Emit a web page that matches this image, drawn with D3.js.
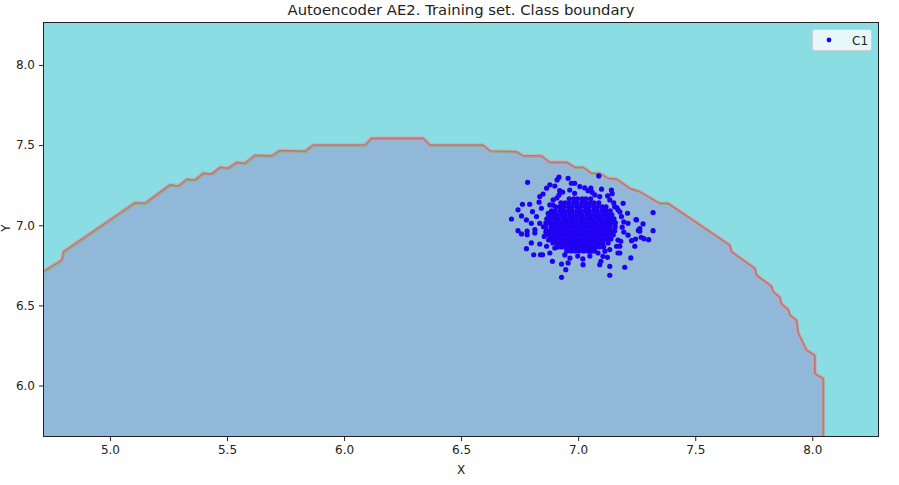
<!DOCTYPE html>
<html><head><meta charset="utf-8">
<script src="https://cdn.jsdelivr.net/npm/d3@7"></script>
<style>body{margin:0;background:#fff;} svg{display:block;font-family:"DejaVu Sans",sans-serif;}</style>
</head><body><svg id="c" width="899" height="485"></svg>
<script>
const xDomain = [4.714, 8.285];
const yDomain = [5.679, 8.268];
const xTicks = [5.0, 5.5, 6.0, 6.5, 7.0, 7.5, 8.0];
const yTicks = [6.0, 6.5, 7.0, 7.5, 8.0];
const title = "Autoencoder AE2. Training set. Class boundary";
const seriesName = "C1";

// class boundary (stepped contour), left to right
const boundary = [
 [4.714,6.710],[4.794,6.783],[4.801,6.835],[5.107,7.141],[5.149,7.137],[5.256,7.252],[5.292,7.245],
 [5.328,7.287],[5.363,7.283],[5.398,7.325],[5.434,7.320],[5.470,7.362],[5.505,7.356],[5.541,7.393],
 [5.576,7.387],[5.619,7.437],[5.690,7.433],[5.726,7.466],[5.833,7.462],[5.868,7.501],[6.089,7.501],
 [6.117,7.543],[6.338,7.543],[6.366,7.501],[6.594,7.501],[6.623,7.464],[6.737,7.459],[6.765,7.433],
 [6.843,7.433],[6.879,7.393],[6.950,7.393],[6.986,7.362],[7.021,7.362],[7.057,7.325],[7.092,7.325],
 [7.128,7.293],[7.164,7.289],[7.220,7.231],[7.263,7.210],[7.348,7.137],[7.384,7.137],[7.647,6.877],
 [7.655,6.835],[7.754,6.732],[7.761,6.690],[7.825,6.621],[7.832,6.586],[7.861,6.551],[7.868,6.509],
 [7.896,6.476],[7.904,6.440],[7.932,6.409],[7.939,6.330],[7.975,6.222],[8.010,6.190],[8.010,6.076],
 [8.046,6.045],[8.046,5.679]
];

// scattered points around the cloud edge
const outerPts = [
 [6.784,7.268],[6.918,7.300],[6.910,7.283],[6.957,7.293],[6.971,7.262],[6.985,7.262],[6.879,7.252],
 [6.900,7.245],[6.865,7.231],[6.921,7.216],[7.007,7.241],[6.850,7.195],[6.836,7.179],[6.762,7.131],
 [6.793,7.131],[6.833,7.144],[6.743,7.096],[6.805,7.085],[6.843,7.106],[6.715,7.039],[6.758,7.058],
 [6.779,7.033],[6.822,7.054],[6.872,7.075],[6.879,7.127],[6.893,7.158],[6.800,7.012],[6.836,7.012],
 [7.088,7.308],[7.054,7.231],[7.042,7.216],[7.100,7.225],[7.142,7.220],[7.145,7.197],[7.071,7.189],
 [7.092,7.179],[7.135,7.158],[7.192,7.137],[7.156,7.116],[7.170,7.096],[7.211,7.075],[7.320,7.079],
 [7.185,7.054],[7.249,7.033],[7.277,7.008],[7.213,7.012],
 [6.743,6.966],[6.758,6.946],[6.782,6.963],[6.782,6.941],[6.815,6.952],[6.815,6.973],[6.800,6.890],
 [6.779,6.854],[6.810,6.816],[6.839,6.816],[6.848,6.816],[6.879,6.827],[6.890,6.775],[6.929,6.758],
 [6.957,6.765],[6.947,6.723],[6.929,6.675],[7.021,6.754],[6.836,6.883],[6.865,6.869],
 [7.320,6.966],[7.263,6.963],[7.263,6.979],[7.213,6.938],[7.228,6.904],[7.245,6.914],[7.281,6.916],
 [7.301,6.910],[7.242,6.869],[7.182,6.900],[7.164,6.869],[7.178,6.869],[7.135,6.848],[7.114,6.838],
 [7.170,6.827],[7.178,6.827],[7.106,6.806],[7.125,6.800],[7.097,6.775],[7.092,6.754],[7.225,6.796],
 [7.135,6.744],[7.199,6.738],[7.135,6.688],[7.085,6.827],[7.050,6.838],[7.247,7.036],[7.257,6.968],
 [7.269,6.925],
 [6.892,7.126],[6.909,7.170],[6.934,7.207],[6.964,7.220],[7.028,7.233],[6.870,7.021],[6.862,6.958],
 [6.874,6.908],[6.900,6.858],[6.943,6.815],[6.998,6.808],[7.050,6.808],[7.178,7.083],[7.195,7.021],
 [7.195,6.958],[7.170,6.908],[7.126,7.183],[7.152,7.139],[6.918,7.188],[6.985,7.199],[7.060,7.205],
 [6.852,6.990],[6.855,6.930],[7.020,6.790],[6.965,6.795],[7.188,6.988],[7.165,7.110]
];

// dense core of the cloud, row by row: [y, [x values]]
const coreRows = [
 [7.165,[6.962,6.981,6.997,7.017,7.033,7.053]],
 [7.140,[6.926,6.944,6.960,6.980,6.996,7.016,7.032,7.052,7.068,7.088]],
 [7.115,[6.904,6.923,6.939,6.959,6.975,6.995,7.011,7.031,7.047,7.067,7.083,7.103,7.119]],
 [7.090,[6.886,6.902,6.922,6.938,6.958,6.974,6.994,7.010,7.030,7.046,7.066,7.082,7.102,7.118,7.137]],
 [7.065,[6.874,6.893,6.909,6.929,6.945,6.965,6.981,7.001,7.017,7.037,7.053,7.073,7.089,7.109,7.125,7.144]],
 [7.040,[6.866,6.883,6.903,6.919,6.939,6.955,6.975,6.991,7.011,7.027,7.047,7.063,7.083,7.099,7.119,7.135,7.153]],
 [7.015,[6.862,6.875,6.893,6.911,6.929,6.947,6.965,6.983,7.001,7.019,7.037,7.055,7.073,7.091,7.109,7.127,7.145,7.159]],
 [6.990,[6.861,6.884,6.902,6.920,6.938,6.956,6.974,6.992,7.010,7.028,7.046,7.064,7.082,7.100,7.118,7.136,7.158]],
 [6.965,[6.864,6.877,6.895,6.913,6.931,6.949,6.967,6.985,7.003,7.021,7.039,7.057,7.075,7.093,7.111,7.129,7.147,7.156]],
 [6.940,[6.870,6.886,6.904,6.922,6.940,6.958,6.976,6.994,7.012,7.030,7.048,7.066,7.084,7.102,7.120,7.138,7.150]],
 [6.915,[6.880,6.897,6.915,6.933,6.951,6.969,6.987,7.005,7.023,7.041,7.059,7.077,7.095,7.113,7.131,7.140]],
 [6.890,[6.892,6.908,6.926,6.944,6.962,6.980,6.998,7.016,7.034,7.052,7.070,7.088,7.106,7.128]],
 [6.865,[6.912,6.929,6.947,6.965,6.983,7.001,7.019,7.037,7.055,7.073,7.091,7.109]],
 [6.840,[6.951,6.969,6.987,7.005,7.023,7.041,7.059,7.071]]
];

const colOutside = "#8bdde4";
const colInside = "#91b8d8";
const colPoint = "#1f00f2";

const svg = d3.select("#c");
const L = 43, R = 879, T = 22, B = 437;
const x = d3.scaleLinear().domain(xDomain).range([L, R]);
const y = d3.scaleLinear().domain(yDomain).range([B, T]);

svg.append("defs").append("clipPath").attr("id","clip")
  .append("rect").attr("x",L).attr("y",T).attr("width",R-L).attr("height",B-T);
const g = svg.append("g").attr("clip-path","url(#clip)");

g.append("rect").attr("x",L).attr("y",T).attr("width",R-L).attr("height",B-T).attr("fill",colOutside);

const region = boundary.concat([[xDomain[0], yDomain[0]]]);
g.append("path").attr("d", d3.line().x(d=>x(d[0])).y(d=>y(d[1]))(region) + "Z").attr("fill", colInside);

const bl = d3.line().x(d=>x(d[0])).y(d=>y(d[1]));
g.append("path").attr("d", bl(boundary)).attr("fill","none").attr("stroke","#d9a0b0").attr("stroke-width",4).attr("opacity",0.75);
g.append("path").attr("d", bl(boundary)).attr("fill","none").attr("stroke","#7cb884").attr("stroke-width",1.2).attr("transform","translate(0.9,1.2)");
g.append("path").attr("d", bl(boundary)).attr("fill","none").attr("stroke","#bf7478").attr("stroke-width",1.5);

const pts = outerPts.slice();
coreRows.forEach(r => r[1].forEach(xv => pts.push([xv, r[0]])));
g.selectAll("circle.p").data(pts).enter().append("circle").attr("class","p")
  .attr("cx", d=>x(d[0])).attr("cy", d=>y(d[1])).attr("r", 2.6).attr("fill", colPoint);

// axes
const fmt = d3.format(".1f");
const xa = svg.append("g").attr("transform",`translate(0,${B})`)
  .call(d3.axisBottom(x).tickValues(xTicks).tickFormat(fmt).tickSizeOuter(0).tickSize(4).tickPadding(4));
const ya = svg.append("g").attr("transform",`translate(${L},0)`)
  .call(d3.axisLeft(y).tickValues(yTicks).tickFormat(fmt).tickSizeOuter(0).tickSize(4).tickPadding(4));
[xa, ya].forEach(a => {
  a.select(".domain").remove();
  a.selectAll("text").attr("font-size","12px").attr("fill","#222").attr("font-family","DejaVu Sans");
  a.selectAll("line").attr("stroke","#222");
});
svg.append("rect").attr("x",L+0.5).attr("y",T+0.5).attr("width",R-L-1).attr("height",B-T-1)
  .attr("fill","none").attr("stroke","#222").attr("stroke-width",1);

svg.append("text").attr("x",(L+R)/2).attr("y",15).attr("text-anchor","middle")
  .attr("font-size","14.8px").attr("fill","#222").text(title);
svg.append("text").attr("x",(L+R)/2).attr("y",474).attr("text-anchor","middle")
  .attr("font-size","12px").attr("fill","#222").text("X");
svg.append("text").attr("transform","translate(10,228) rotate(-90)").attr("text-anchor","middle")
  .attr("font-size","12px").attr("fill","#222").text("Y");

// legend
const lg = svg.append("g");
lg.append("rect").attr("x",812.5).attr("y",29.5).attr("width",59).attr("height",21).attr("rx",2)
  .attr("fill","rgba(255,255,255,0.8)").attr("stroke","#d0d0d0");
lg.append("circle").attr("cx",829).attr("cy",40).attr("r",2.4).attr("fill",colPoint);
lg.append("text").attr("x",852).attr("y",44.5).attr("font-size","12px").attr("fill","#222").text(seriesName);
</script></body></html>
